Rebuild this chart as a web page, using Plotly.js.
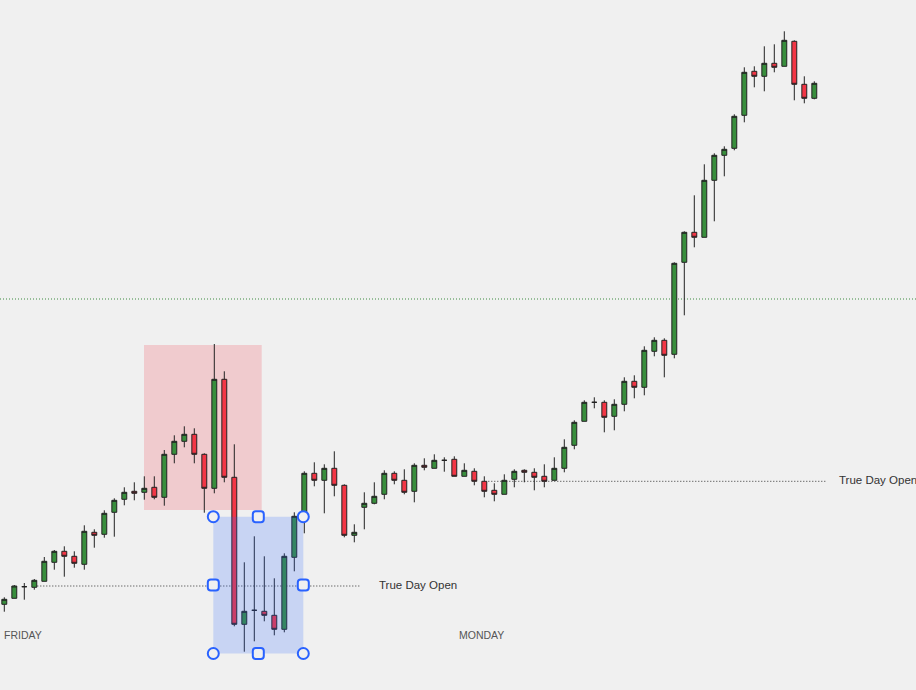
<!DOCTYPE html>
<html>
<head>
<meta charset="utf-8">
<script src="https://cdn.plot.ly/plotly-3.0.1.min.js"></script>
<style>
html,body{margin:0;padding:0;background:#f0f0f0;}
#chart{width:916px;height:690px;}
</style>
</head>
<body>
<div id="chart"></div>
<script>
// Price values (arbitrary points), one entry per bar
const openP  = [85.7,91.7,103.3,102.7,108.7,127.7,138.7,133.7,125.7,157.7,
  155.7,177.7,190.7,198.7,197.7,202.7,192.7,235.7,248.7,255.7,
  235.7,201.7,310.7,212.7,65.7,79.7,78.7,74.7,60.7,132.7,
  173.7,216.7,209.7,221.7,204.7,154.7,182.7,186.7,195.7,216.7,
  209.7,198.7,224.7,221.7,229.7,230.7,213.7,218.7,208.7,199.7,
  195.7,210.7,219.7,217.7,213.7,209.7,221.7,244.7,268.7,287.7,
  287.7,273.7,285.7,308.7,302.7,338.7,349.7,335.7,427.7,457.7,
  452.7,509.7,534.7,541.7,574.7,618.7,613.7,626.7,623.7,648.7,
  605.7,591.7];
const highP  = [92.7,105,107,111,133,140,143.7,138.7,164.7,160.7,
  179.7,191.7,202.7,207.7,213.7,213.7,240,254.7,263.7,261.7,
  236.7,346,318.7,245.7,127.7,153.7,133.7,111.7,136.7,177.7,
  218.7,227.7,225.7,238.7,205.7,165.7,197.7,207.7,219.7,218.7,
  220.7,226.7,231.7,235.7,232.7,233.7,226.7,221.7,213.7,206.7,
  215.7,220.7,220.7,221.7,225.7,232.7,250.7,269.7,289.7,292.7,
  289.7,290.7,312.7,314.7,343.7,352.7,351.7,427.7,458.7,494.7,
  525.7,536.7,543.7,575.7,622.7,623.7,643.7,645.7,658.7,649.7,
  613.7,608.7];
const lowP   = [78.3,91.7,90.3,100.3,108.7,120.3,113.3,122.3,120.3,142.3,
  152.3,153.3,184.7,189.7,190.3,190.7,184.3,226.7,242.7,226.7,
  177.3,196.7,207.7,63.7,38.3,48.7,68.7,54.7,57.7,118.7,
  156.7,203.7,176.7,193.7,152.7,147.7,160.7,185.7,190.7,205.7,
  195.7,187.7,219.7,221.7,218.3,213.7,213.7,204.7,192.7,188.7,
  195.7,202.7,207.7,199.7,202.7,209.7,217.7,240.7,268.7,281.7,
  257.7,259.7,278.7,291.7,294.7,333.7,312.7,331.7,374.7,442.7,
  452.7,468.7,513.7,539.7,567.7,602.7,598.7,617.7,623.7,589.7,
  586.7,590.7];
const closeP = [90.7,104,103.3,109.7,128.7,138.7,133.7,126.7,158.7,154.7,
  176.7,189.7,197.7,196.7,201.7,192.7,235.7,248.7,255.7,235.7,
  201.7,310.7,212.7,65.7,78.7,79.7,74.7,60.7,133.7,173.7,
  216.7,209.7,221.7,204.7,154.7,157.7,186.7,193.7,216.7,209.7,
  197.7,224.7,222.7,229.7,229.7,213.7,219.7,208.7,198.7,195.7,
  209.7,218.7,217.7,212.7,208.7,221.7,242.7,267.7,287.7,287.7,
  272.7,285.7,308.7,302.7,339.7,349.7,334.7,426.7,457.7,452.7,
  509.7,534.7,540.7,573.7,617.7,613.7,626.7,622.7,649.7,605.7,
  591.7,606.7];
const barIndex = openP.map((_, i) => i);

// Reference levels and labels
const upperLevel = 391;        // green dotted level
const trueDayOpenFri = 104;    // Friday true day open
const trueDayOpenMon = 208.7;  // Monday true day open
const levelLabel = "True Day Open";
const dayLabels = ["FRIDAY", "MONDAY"];

const trace = {
  type: 'candlestick',
  x: barIndex,
  open: openP, high: highP, low: lowP, close: closeP,
  increasing: {line: {color: '#222222', width: 1}, fillcolor: '#388e3c'},
  decreasing: {line: {color: '#222222', width: 1}, fillcolor: '#f23645'},
  hoverinfo: 'skip',
  showlegend: false
};

const blue = '#2962ff';
const handleFill = '#f0f0f0';
const bx0 = 20.9, bx1 = 29.9, by0 = 36.5, by1 = 173.3;
const bxm = (bx0 + bx1) / 2, bym = trueDayOpenFri + 1;
const sq = 'M -2.5 -5.5 L 2.5 -5.5 Q 5.5 -5.5 5.5 -2.5 L 5.5 2.5 Q 5.5 5.5 2.5 5.5 L -2.5 5.5 Q -5.5 5.5 -5.5 2.5 L -5.5 -2.5 Q -5.5 -5.5 -2.5 -5.5 Z';

function circleHandle(x, y) {
  return {type: 'circle', layer: 'above', xref: 'x', yref: 'y',
    xsizemode: 'pixel', ysizemode: 'pixel', xanchor: x, yanchor: y,
    x0: -5.5, x1: 5.5, y0: -5.5, y1: 5.5,
    line: {color: blue, width: 2}, fillcolor: handleFill};
}
function squareHandle(x, y) {
  return {type: 'path', layer: 'above', xref: 'x', yref: 'y',
    xsizemode: 'pixel', ysizemode: 'pixel', xanchor: x, yanchor: y,
    path: sq, line: {color: blue, width: 2}, fillcolor: handleFill};
}

const shapes = [
  {type: 'rect', layer: 'below', xref: 'x', yref: 'y', x0: 13.97, x1: 25.74, y0: 180, y1: 345,
    fillcolor: 'rgba(242,54,69,0.2)', line: {width: 0}},
  {type: 'line', layer: 'below', xref: 'paper', yref: 'y', x0: 0, x1: 1, y0: upperLevel, y1: upperLevel,
    line: {color: '#3d8b40', width: 1, dash: '1px,2px'}},
  {type: 'line', layer: 'below', xref: 'x', yref: 'y', x0: 3.3, x1: 35.6, y0: trueDayOpenFri, y1: trueDayOpenFri,
    line: {color: '#333333', width: 1, dash: '1px,2px'}},
  {type: 'line', layer: 'below', xref: 'x', yref: 'y', x0: 48.4, x1: 82.1, y0: trueDayOpenMon, y1: trueDayOpenMon,
    line: {color: '#333333', width: 1, dash: '1px,2px'}},
  {type: 'rect', layer: 'above', xref: 'x', yref: 'y', x0: bx0, x1: bx1, y0: by0, y1: by1,
    fillcolor: 'rgba(41,98,255,0.2)', line: {width: 0}},
  circleHandle(bx0, by1), squareHandle(bxm, by1), circleHandle(bx1, by1),
  squareHandle(bx0, bym), squareHandle(bx1, bym),
  circleHandle(bx0, by0), squareHandle(bxm, by0), circleHandle(bx1, by0)
];

const labelFont = {family: 'Liberation Sans, Arial, sans-serif', size: 11.5, color: '#333333'};
const dayFont = {family: 'Liberation Sans, Arial, sans-serif', size: 10.5, color: '#555555'};
const annotations = [
  {x: 37.37, y: trueDayOpenFri + 1, xref: 'x', yref: 'y', text: levelLabel, showarrow: false,
    xanchor: 'left', yanchor: 'middle', font: labelFont, borderpad: 0},
  {x: 83.37, y: trueDayOpenMon + 1.3, xref: 'x', yref: 'y', text: levelLabel, showarrow: false,
    xanchor: 'left', yanchor: 'middle', font: labelFont, borderpad: 0},
  {x: -0.13, y: 55, xref: 'x', yref: 'y', text: dayLabels[0], showarrow: false,
    xanchor: 'left', yanchor: 'middle', font: dayFont, borderpad: 0},
  {x: 45.37, y: 55, xref: 'x', yref: 'y', text: dayLabels[1], showarrow: false,
    xanchor: 'left', yanchor: 'middle', font: dayFont, borderpad: 0}
];

const layout = {
  width: 916, height: 690,
  margin: {l: 0, r: 0, t: 0, b: 0, pad: 0},
  paper_bgcolor: '#f0f0f0', plot_bgcolor: '#f0f0f0',
  showlegend: false,
  xaxis: {range: [-0.43, 91.17], visible: false, showgrid: false, zeroline: false,
    rangeslider: {visible: false}, fixedrange: true},
  yaxis: {range: [0, 690], visible: false, showgrid: false, zeroline: false, fixedrange: true},
  shapes: shapes,
  annotations: annotations
};

Plotly.newPlot('chart', [trace], layout, {displayModeBar: false, staticPlot: true});
</script>
</body>
</html>
